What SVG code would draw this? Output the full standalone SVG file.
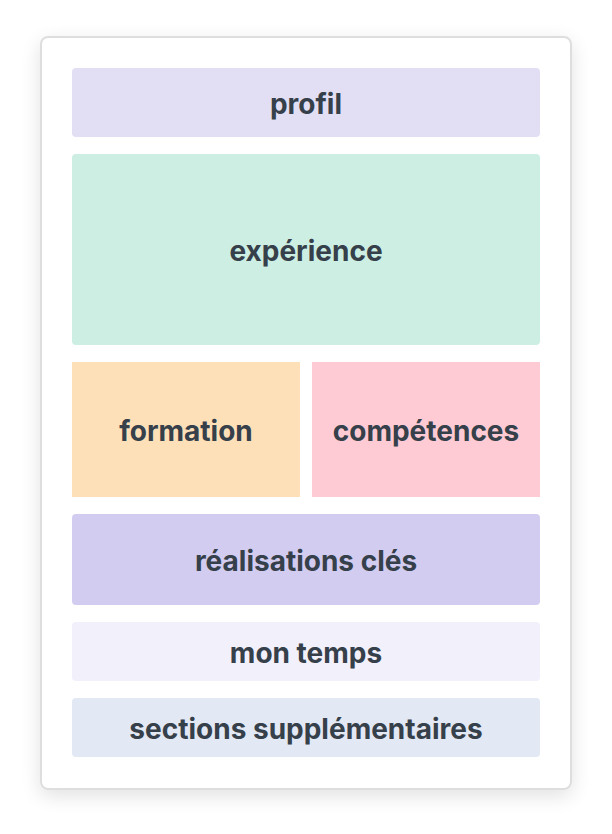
<svg xmlns="http://www.w3.org/2000/svg" width="612" height="834" viewBox="0 0 612 834">
<defs>
<filter id="sh" x="-20%" y="-20%" width="140%" height="140%">
<feGaussianBlur in="SourceAlpha" stdDeviation="10"/>
<feOffset dy="6"/>
<feComponentTransfer><feFuncA type="linear" slope="0.12"/></feComponentTransfer>
<feMerge><feMergeNode/><feMergeNode in="SourceGraphic"/></feMerge>
</filter>
<style>
.lbl{font-family:Inter,"Liberation Sans",sans-serif;font-weight:700;font-size:28px;fill:#36404a;text-anchor:middle;dominant-baseline:central}
</style>
</defs>
<rect width="612" height="834" fill="#ffffff"/>
<rect x="41" y="37" width="530" height="752" rx="7" fill="#ffffff" stroke="#dedede" stroke-width="2" filter="url(#sh)"/>
<g id="profil"><rect x="72" y="68" width="468" height="69" rx="4" fill="#e2dff5"/><text class="lbl" x="306" y="104">profil</text></g>
<g id="experience"><rect x="72" y="154" width="468" height="191" rx="4" fill="#cdeee3"/><text class="lbl" x="306" y="251">expérience</text></g>
<g id="formation"><rect x="72" y="362" width="228" height="135" fill="#fddfb8"/><text class="lbl" x="186" y="431">formation</text></g>
<g id="competences"><rect x="312" y="362" width="228" height="135" fill="#fecbd4"/><text class="lbl" x="426" y="431">compétences</text></g>
<g id="realisations"><rect x="72" y="514" width="468" height="91" rx="4" fill="#d2ccf0"/><text class="lbl" x="306" y="561">réalisations clés</text></g>
<g id="montemps"><rect x="72" y="622" width="468" height="59" rx="4" fill="#f1f0fb"/><text class="lbl" x="306" y="653">mon temps</text></g>
<g id="sections"><rect x="72" y="698" width="468" height="59" rx="4" fill="#e2e8f4"/><text class="lbl" x="306" y="729">sections supplémentaires</text></g>
<g id="connectors"/>
</svg>
